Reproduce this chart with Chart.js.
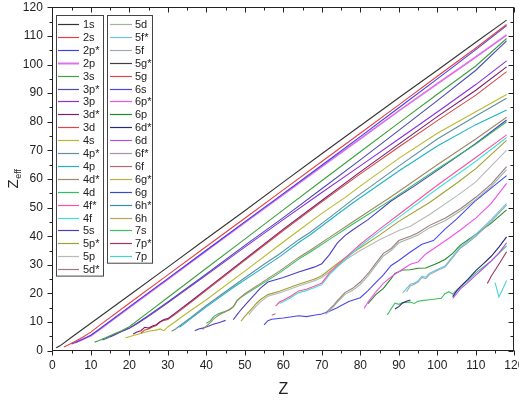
<!DOCTYPE html>
<html>
<head>
<meta charset="utf-8">
<script src="https://cdn.jsdelivr.net/npm/chart.js@4.4.0/dist/chart.umd.min.js"></script>
<style>
  body { margin: 0; background: #fff; }
  canvas { display: block; }
</style>
</head>
<body>
<canvas id="zeffChart" width="519" height="406"></canvas>
<script>
// —————— DATA ——————
// orbital names, in legend order
const orbitals = ['1s', '2s', '2p*', '2p', '3s', '3p*', '3p', '3d*', '3d', '4s',
  '4p*', '4p', '4d*', '4d', '4f*', '4f', '5s', '5p*', '5p', '5d*',
  '5d', '5f*', '5f', '5g*', '5g', '6s', '6p*', '6p', '6d*', '6d',
  '6f*', '6f', '6g*', '6g', '6h*', '6h', '7s', '7p*', '7p'];

const orbitalColors = ['#333333', '#e84040', '#4040f0', '#e070e8', '#3ca03c', '#4b4bb0', '#8a30e0', '#7a1f6e', '#d84848', '#b8b830',
  '#5f8fa0', '#20b2c8', '#a08868', '#30c060', '#ff4f9f', '#40e0e0', '#4a3fc0', '#a0a030', '#b8b8b8', '#a07888',
  '#98b898', '#70c0d8', '#98aab8', '#404040', '#e04848', '#4848e8', '#f050f0', '#208a20', '#28287a', '#b050f0',
  '#a890b0', '#c06868', '#b8b040', '#3050c8', '#3090a0', '#c0a060', '#40c060', '#a03060', '#48d0d8'];

const xTicks = [0, 10, 20, 30, 40, 50, 60, 70, 80, 90, 100, 110, 120];
const yTicks = [0, 10, 20, 30, 40, 50, 60, 70, 80, 90, 100, 110, 120];

// [Z, Zeff]; null = no value (line break)
const z1s = [[1,1.0],[2,1.7],[5,4.7],[10,9.6],[20,19.4],[30,29.2],[40,39.1],[50,48.9],[60,58.9],[70,68.8],[80,78.6],[90,88.4],[100,98],[110,107.8],[118,115.5]];
const z2s = [[3,1.3],[4,1.9],[6,3.3],[8,4.8],[10,6.5],[12,8.6],[20,16.6],[30,26.5],[40,36.4],[50,46.3],[60,56.2],[70,66.1],[80,76],[90,85.9],[100,95.9],[110,105.8],[118,114]];
const z2pS = [[5,2.3],[6,2.9],[8,4.1],[10,5.4],[12,7.3],[20,15.3],[30,25.2],[40,35.1],[50,45],[60,54.9],[70,64.8],[80,74.8],[90,84.9],[100,95],[110,105.2],[118,113.6]];
const z2p = [[6,2.8],[8,4.0],[10,5.2],[12,7.1],[20,15.1],[30,25],[40,34.9],[50,44.8],[60,54.6],[70,64.4],[80,74.1],[90,83.8],[100,93.3],[110,102.6],[118,110.3]];
const z3s = [[11,3.0],[12,3.5],[14,4.6],[16,5.8],[18,7.0],[19,7.7],[20,8.4],[25,13.5],[30,18.6],[40,28.8],[50,39],[60,49.2],[70,59.4],[80,69.5],[90,79.6],[100,89.6],[110,99.5],[118,109.1]];
const z3pS = [[13,3.7],[14,4.3],[16,5.6],[18,6.8],[20,7.9],[22,9.6],[25,12.3],[30,17],[40,26.8],[50,36.8],[60,46.5],[70,56.6],[80,66.7],[90,77],[100,87.4],[110,98],[118,108.3]];
const z3p = [[15,4.8],[16,5.4],[18,6.7],[20,7.8],[22,9.4],[25,12.0],[30,16.7],[40,26.4],[50,36.2],[60,45.8],[70,55.3],[80,64.6],[90,74],[100,83.4],[110,93],[118,101.3]];
const z3dS = [[21,5.8],[22,6.5],[23,7.0],[24,8.2],[25,7.9],[26,8.6],[27,9.1],[28,10.1],[29,10.9],[30,11.2],[32,13.2],[36,17.3],[40,21.5],[50,32],[60,42.5],[70,52.5],[80,62.5],[90,72.2],[100,81.8],[110,91],[118,99.2]];
const z3d = [[23,6.2],[24,7.2],[25,7.6],[26,8.3],[27,8.8],[28,10],[29,10.6],[30,10.9],[32,12.8],[36,16.9],[40,21.1],[50,31.6],[60,42],[70,52],[80,61.8],[90,71.2],[100,80.4],[110,89.3],[118,97.5]];
const z4s = [[19,4.5],[20,4.9],[21,5.3],[23,6.0],[25,6.8],[27,7.2],[28,7.6],[29,7.0],[30,8.3],[32,10.2],[34,12.2],[40,17.8],[50,27.8],[60,38],[64,42],[70,48],[76,53.5],[80,57.5],[90,67.2],[100,76],[110,83.5],[118,89.5]];
const z4pS = [[31,6.8],[32,7.6],[34,9.6],[36,11.6],[40,15.8],[47,22.6],[55,30.2],[59,33.8],[64,38.8],[67,41.4],[72,46.5],[78,52.8],[90,64.5],[100,74],[110,82],[118,88.2]];
const z4p = [[33,8.2],[34,9.1],[36,11.2],[40,15.3],[47,22.1],[55,29.2],[59,32.8],[64,37.8],[67,40.5],[72,45.6],[78,51.6],[90,62.8],[100,71.5],[110,79],[118,84.1]];
const z4dS = [[39,7.4],[40,8.6],[41,9.8],[42,11.2],[43,12.2],[44,13],[45,13.6],[46,14.5],[47,15.4],[48,17.6],[50,19.9],[55,24.3],[59,27.8],[64,32.6],[67,35.1],[72,39.6],[78,45],[88,53.8],[100,65],[110,74],[118,81.6]];
const z4d = [[40,9.6],[41,10.4],[42,12],[43,12.8],[44,13.3],[45,13.8],[46,14.2],[47,15.2],[48,17.4],[49,18.7],[50,19.5],[55,23.8],[59,27.2],[64,32],[67,34.5],[72,38.9],[78,44.2],[88,52.7],[100,63.5],[110,72.2],[118,80]];
const z4fS = [[58,15.6],[59,17],[60,17.6],[62,19.1],[64,20.9],[66,21.5],[68,22.5],[70,23.6],[72,27.2],[74,29.8],[77,33.6],[80,37.2],[85,42.5],[90,47.6],[100,57.8],[110,67.5],[118,75.4]];
const z4f = [[59,16.5],[60,17.1],[62,18.6],[64,20.3],[66,21],[68,22],[70,23.1],[72,26.6],[74,29.2],[77,33],[80,36.5],[85,41.7],[90,46.6],[100,56.6],[110,66.2],[118,74.5]];
const z5s = [[37,7.0],[38,7.6],[39,7.9],[40,8.3],[41,8.8],[42,9.3],[43,9.7],[44,10.1],[45,10.6],[46,null],[47,10.8],[48,12.6],[49,14.3],[50,15.8],[52,18.8],[54,21.8],[56,24],[58,24.8],[60,25.6],[64,27.5],[68,29.2],[70,30.4],[72,33.6],[74,37.6],[76,40.2],[78,42.2],[82,45.8],[88,52.3],[94,57.5],[100,63],[110,72.4],[118,80.6]];
const z5pS = [[49,10.3],[50,12],[51,13.5],[52,15],[53,16.5],[54,17.8],[56,19.6],[59,20.8],[64,23.2],[68,25],[70,26.2],[72,28.3],[74,30.4],[77,33.4],[80,36],[85,40.4],[90,45.2],[98,51.8],[105,58.5],[110,63.6],[118,73.5]];
const z5p = [[51,12.5],[52,14.2],[53,15.7],[54,17],[56,19],[59,20.2],[64,22.6],[68,24.4],[70,25.6],[72,27.6],[74,29.6],[77,32.5],[80,35],[85,38.8],[90,42],[93,43.5],[98,47.6],[105,54],[110,59],[118,70.1]];
const z5dS = [[57,12.4],[58,12.9],[59,null],[71,13.2],[72,14.5],[73,15.8],[74,17.4],[76,20.3],[78,21.8],[80,24],[82,26.9],[84,30.5],[86,34],[88,35.7],[90,38.5],[93,40],[95,41.2],[98,43.8],[102,46.3],[106,49.6],[110,53.6],[114,58.2],[118,64.3]];
const z5d = [[71,12.7],[72,14],[73,15.3],[74,16.9],[76,19.7],[78,21.1],[80,23.2],[82,26.1],[84,29.7],[86,33.1],[88,35],[90,37.7],[93,39.3],[95,40.4],[98,43],[102,45.4],[106,48.8],[110,52.8],[114,57.4],[118,63.3]];
const z5fS = [[91,20.2],[92,21.7],[93,23.2],[94,23.6],[95,24.4],[96,26.1],[97,25.7],[98,27.1],[100,28.4],[102,29.6],[104,33],[106,36.3],[108,38.3],[110,40.6],[114,45.8],[118,51.5]];
const z5f = [[92,20.6],[93,22.6],[94,23.2],[95,24],[96,25.6],[97,25.2],[98,26.6],[100,28],[102,29.2],[104,32.5],[106,35.8],[108,37.8],[110,40],[114,45.2],[118,50.9]];
const z5gS = [];
const z5g = [];
const z6s = [[55,9.0],[56,10.5],[57,11.0],[60,11.4],[64,12.2],[66,11.9],[68,12.4],[70,12.8],[72,13.8],[74,15],[77,17.2],[80,18.5],[82,21],[84,23.8],[86,26.5],[88,29.8],[90,31.5],[93,34.5],[96,37.2],[99,38.5],[102,42.5],[105,46],[110,52.5],[114,56.8],[118,61.2]];
const z6pS = [[81,14.8],[82,17],[84,20.5],[86,23.5],[88,25.8],[90,27.6],[93,30.2],[95,31],[97,33.8],[100,36.5],[103,39.3],[106,42.2],[110,46.3],[114,51.5],[118,58.5]];
const z6p = [[82,16.4],[84,19.6],[86,21.8],[88,25.2],[89,27],[91,28.2],[93,28.3],[95,28.8],[97,28.9],[100,30.6],[102,31.9],[104,34],[106,36.9],[110,40.6],[114,44.6],[118,49.2]];
const z6dS = [[89,14.6],[90,15.4],[91,16.7],[92,17.3],[93,17.7],[94,null],[104,18.9],[105,20.8],[106,22.4],[108,25],[110,28],[112,30.4],[114,33],[116,36.2],[118,39.8]];
const z6d = [[104,18.3],[105,19.9],[106,21.6],[108,23.9],[110,26.4],[112,28.8],[114,31.3],[116,34.2],[118,37.7]];
const z6fS = [];
const z6f = [];
const z6gS = [];
const z6g = [];
const z6hS = [];
const z6h = [];
const z7s = [[87,12.5],[88,14.6],[89,16.6],[90,16.2],[91,16.8],[93,17],[94,16.5],[95,17.3],[96,17.5],[98,17.8],[101,18.3],[102,19.9],[103,20.6],[104,19.8],[105,21.2],[108,24.6],[110,27.2],[114,31.4],[118,36.6]];
const z7pS = [[113,23.5],[114,26],[116,30.2],[118,34.6]];
const z7p = [[115,23.8],[116,18.8],[117,21.6],[118,24.5]];

const orbitalData = [z1s, z2s, z2pS, z2p, z3s, z3pS, z3p, z3dS, z3d, z4s,
  z4pS, z4p, z4dS, z4d, z4fS, z4f, z5s, z5pS, z5p, z5dS,
  z5d, z5fS, z5f, z5gS, z5g, z6s, z6pS, z6p, z6dS, z6d,
  z6fS, z6f, z6gS, z6g, z6hS, z6h, z7s, z7pS, z7p];

// —————— CHART ——————
const FONT = "'Liberation Sans', Arial, sans-serif";

// frame with mirrored ticks, two-column legend box, Z_eff axis title
const framePlugin = {
  id: 'framePlugin',
  afterDraw(chart) {
    const { ctx, chartArea: a, scales: { x, y } } = chart;
    const L = Math.round(a.left) + 0.5, R = Math.round(a.right) - 0.5;
    const T = Math.round(a.top) + 0.5, B = Math.round(a.bottom) - 0.5;
    ctx.save();
    ctx.strokeStyle = '#222';
    ctx.lineWidth = 1;
    ctx.strokeRect(L, T, R - L, B - T);
    ctx.beginPath();
    for (let v = 0; v <= 120; v += 5) {
      const len = v % 10 === 0 ? 5 : 3;
      const px = Math.round(x.getPixelForValue(v)) + 0.5;
      ctx.moveTo(px, B); ctx.lineTo(px, B + len);   // bottom, outward
      ctx.moveTo(px, T); ctx.lineTo(px, T + len);   // top, inward
      const py = Math.round(y.getPixelForValue(v)) + 0.5;
      ctx.moveTo(L - len, py); ctx.lineTo(L, py);   // left, outward
      ctx.moveTo(R, py); ctx.lineTo(R - len, py);   // right, inward
    }
    ctx.stroke();

    // legend: two boxed columns
    const cols = [
      { from: 0, to: 20, box: [56, 103], line: [58, 79], text: 83 },
      { from: 20, to: orbitals.length, box: [107, 152], line: [110, 132], text: 135 }
    ];
    const rowH = 12.9, firstRow = 24;
    ctx.font = '11px ' + FONT;
    ctx.textBaseline = 'middle';
    cols.forEach(c => {
      const n = c.to - c.from;
      const bottom = firstRow + (n - 1) * rowH + 6.5;
      ctx.fillStyle = '#fff';
      ctx.fillRect(c.box[0], 15, c.box[1] - c.box[0], bottom - 15);
      ctx.strokeStyle = '#444';
      ctx.lineWidth = 1;
      ctx.strokeRect(c.box[0] + 0.5, 15.5, c.box[1] - c.box[0], bottom - 15);
      for (let i = c.from; i < c.to; i++) {
        const ry = Math.round(firstRow + (i - c.from) * rowH) + 0.5;
        ctx.strokeStyle = orbitalColors[i];
        ctx.lineWidth = orbitals[i] === '2p' ? 2 : 1.2;
        ctx.beginPath();
        ctx.moveTo(c.line[0], ry); ctx.lineTo(c.line[1], ry);
        ctx.stroke();
        ctx.fillStyle = '#222';
        ctx.fillText(orbitals[i], c.text, ry);
      }
    });

    // y-axis title with subscript
    ctx.translate(18, (a.top + a.bottom) / 2);
    ctx.rotate(-Math.PI / 2);
    ctx.fillStyle = '#222';
    ctx.textBaseline = 'alphabetic';
    ctx.font = '15px ' + FONT;
    const w1 = ctx.measureText('Z').width;
    ctx.font = '9px ' + FONT;
    const w2 = ctx.measureText('eff').width;
    const x0 = -(w1 + w2) / 2;
    ctx.font = '15px ' + FONT;
    ctx.fillText('Z', x0, 0);
    ctx.font = '9px ' + FONT;
    ctx.fillText('eff', x0 + w1 + 0.5, 3);
    ctx.restore();
  }
};

new Chart(document.getElementById('zeffChart'), {
  type: 'line',
  data: {
    datasets: orbitals.map((name, i) => ({
      label: name,
      data: orbitalData[i].map(p => ({ x: p[0], y: p[1] })),
      borderColor: orbitalColors[i],
      backgroundColor: orbitalColors[i],
      borderWidth: name === '2p' ? 1.8 : 1.1,
      pointRadius: 0,
      tension: 0,
      fill: false,
      spanGaps: false
    }))
  },
  options: {
    responsive: false,
    animation: false,
    devicePixelRatio: 1,
    layout: { padding: { left: 0, right: 4.7, top: 7.3, bottom: 0 } },
    plugins: {
      legend: { display: false },
      tooltip: { enabled: false }
    },
    scales: {
      x: {
        type: 'linear',
        min: 0,
        max: 120,
        afterBuildTicks: s => { s.ticks = xTicks.map(v => ({ value: v })); },
        afterFit: s => { s.height = 55.3; s.paddingLeft = 0; s.paddingRight = 0; },
        grid: { display: false, drawTicks: false, tickLength: 0 },
        border: { display: false },
        ticks: {
          autoSkip: false,
          maxRotation: 0,
          padding: 8,
          color: '#222',
          font: { family: FONT, size: 12 }
        },
        title: {
          display: true,
          text: 'Z',
          color: '#222',
          font: { family: FONT, size: 16 },
          padding: { top: 0, bottom: 7 }
        }
      },
      y: {
        min: 0,
        max: 120,
        afterBuildTicks: s => { s.ticks = yTicks.map(v => ({ value: v })); },
        afterFit: s => { s.width = 52.3; s.paddingTop = 0; s.paddingBottom = 0; },
        grid: { display: false, drawTicks: false, tickLength: 0 },
        border: { display: false },
        ticks: {
          autoSkip: false,
          padding: 9.5,
          color: '#222',
          font: { family: FONT, size: 12 }
        }
      }
    }
  },
  plugins: [framePlugin]
});
</script>
</body>
</html>
